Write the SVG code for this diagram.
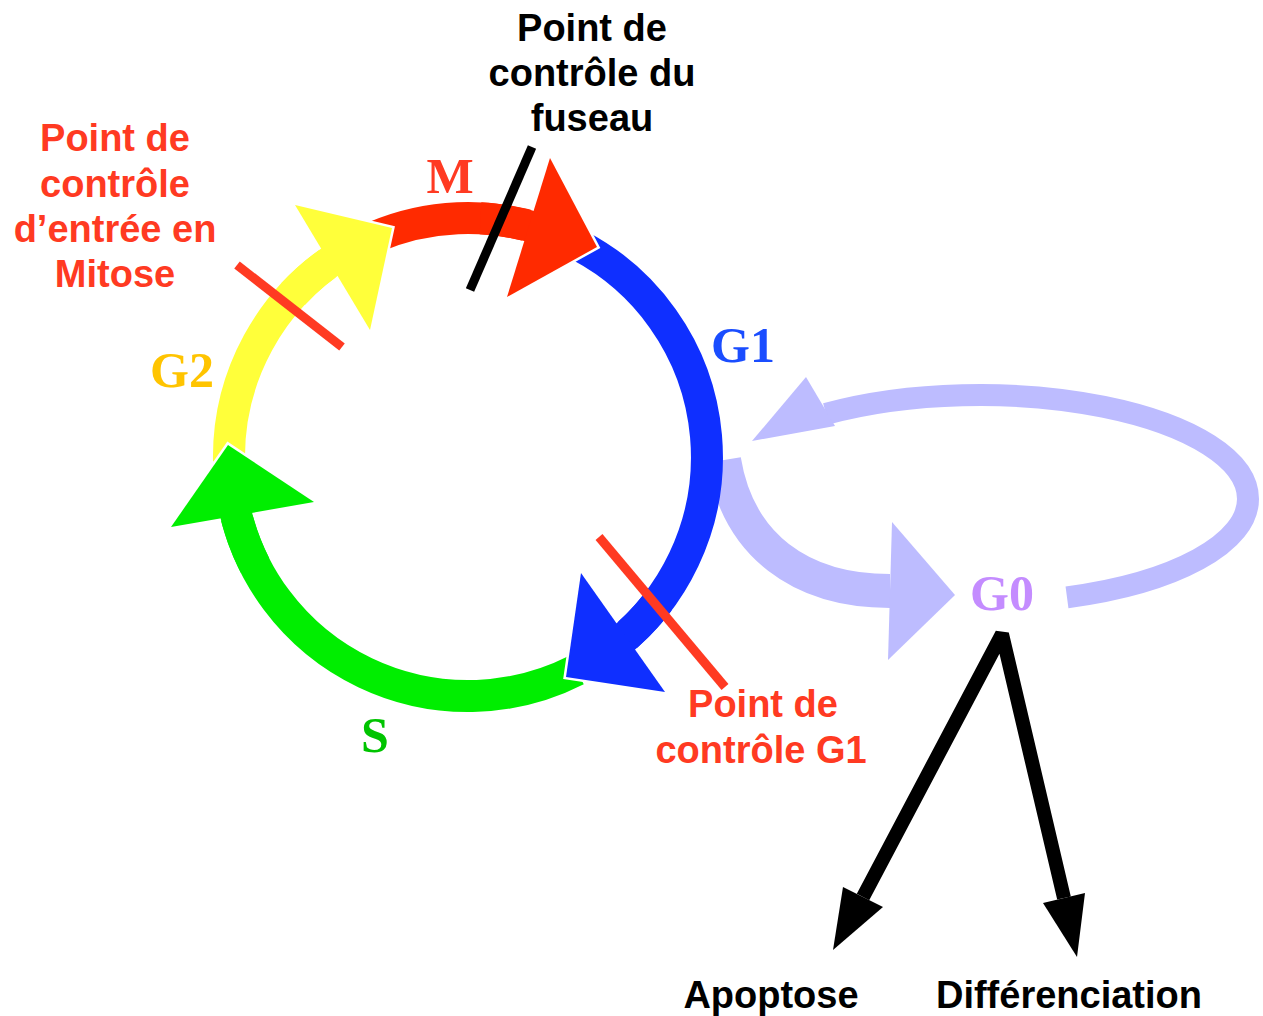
<svg xmlns="http://www.w3.org/2000/svg" width="1263" height="1016" viewBox="0 0 1263 1016">
<style>
.sans{font-family:"Liberation Sans",Arial,sans-serif;font-weight:bold;font-size:38px;text-anchor:middle}
.serif{font-family:"Liberation Serif","Times New Roman",serif;font-weight:bold;font-size:50px;text-anchor:middle}
.shaft{fill:none;stroke-width:32;stroke-linecap:butt}
.halo{fill:#fff;stroke:#fff;stroke-width:5;stroke-linejoin:miter}
.bar{stroke-width:9;stroke-linecap:butt;fill:none}
.lav{fill:none;stroke:#bdbcff}
.blk{fill:none;stroke:#000;stroke-width:14;stroke-linejoin:bevel}
</style>
<defs>
  <polygon id="hY" points="295,205 392,228 370,330"/>
  <polygon id="hR" points="550,158 597,247 507,297"/>
  <polygon id="hB" points="581,573 566,677 665,692"/>
  <polygon id="hG" points="228,445 171,527 314,502"/>
</defs>
<rect width="1263" height="1016" fill="#fff"/>

<g id="connectors">
  <path class="lav" stroke-width="34" d="M724 460 C738 545 800 591 890 591"/>
  <polygon fill="#bdbcff" points="892,522 955,595 888,660"/>
  <path class="lav" stroke-width="22" d="M1067 597.4 A268 104 0 0 0 1248 499 A268 104 0 0 0 826 413.9"/>
  <polygon fill="#bdbcff" points="752,441 806,377 835,426"/>
  <path class="blk" d="M863 897 L1002 634 L1064 898"/>
  <polygon fill="#000" points="833,950 843,887 883,907"/>
  <polygon fill="#000" points="1077,957 1043,903 1085,893"/>
</g>

<g id="ring">
  <path class="shaft" stroke="#ff2a00" d="M374.6 237 A239 239 0 0 1 541.9 229.7"/>
  <path class="shaft" stroke="#0f2fff" d="M580.2 246 A239 239 0 0 1 615.1 645.3"/>
  <path class="shaft" stroke="#00ee00" d="M576.5 670 A239 239 0 0 1 234.2 506.7"/>
  <path class="shaft" stroke="#ffff3a" d="M229 461.2 A239 239 0 0 1 341.4 254.3"/>
  <g id="arrow-G2">
    <use href="#hY" class="halo"/>
    <path class="shaft" stroke="#ffff3a" d="M293.2 294 A239 239 0 0 1 341.4 254.3"/>
    <use href="#hY" fill="#ffff3a"/>
  </g>
  <g id="arrow-M">
    <use href="#hR" class="halo"/>
    <path class="shaft" stroke="#ff2a00" d="M480.5 218.3 A239 239 0 0 1 541.9 229.7"/>
    <use href="#hR" fill="#ff2a00"/>
  </g>
  <g id="arrow-G1">
    <use href="#hB" class="halo"/>
    <path class="shaft" stroke="#0f2fff" d="M658.9 600.8 A239 239 0 0 1 615.1 645.3"/>
    <use href="#hB" fill="#0f2fff"/>
  </g>
  <g id="arrow-S">
    <use href="#hG" class="halo"/>
    <path class="shaft" stroke="#00ee00" d="M255.05 565.5 A239 239 0 0 1 234.2 506.7"/>
    <use href="#hG" fill="#00ee00"/>
  </g>
</g>

<g id="phase-M"><text class="serif" x="450" y="193" fill="#ff3a22">M</text></g>
<g id="phase-G1"><text class="serif" x="743" y="362" fill="#1a4dff">G1</text></g>
<g id="phase-G2"><text class="serif" x="182" y="387" fill="#ffc400">G2</text></g>
<g id="phase-S"><text class="serif" x="375" y="752" fill="#00c400">S</text></g>
<g id="phase-G0"><text class="serif" x="1002" y="610" fill="#c48cff">G0</text></g>

<g id="checkpoint-spindle">
  <line class="bar" stroke="#000" stroke-width="10" x1="532" y1="147" x2="470" y2="290"/>
  <text class="sans" fill="#000"><tspan x="592" y="41">Point de</tspan><tspan x="592" y="86">contrôle du</tspan><tspan x="592" y="131">fuseau</tspan></text>
</g>
<g id="checkpoint-G2M">
  <line class="bar" stroke="#ff3a22" x1="237" y1="265" x2="342" y2="347"/>
  <text class="sans" fill="#ff3a22"><tspan x="115" y="151">Point de</tspan><tspan x="115" y="197">contrôle</tspan><tspan x="115" y="242">d’entrée en</tspan><tspan x="115" y="287">Mitose</tspan></text>
</g>
<g id="checkpoint-G1">
  <line class="bar" stroke="#ff3a22" x1="599" y1="537" x2="725" y2="687"/>
  <text class="sans" fill="#ff3a22"><tspan x="763" y="717">Point de</tspan><tspan x="761" y="763">contrôle G1</tspan></text>
</g>
<g id="outcome-apoptose"><text class="sans" x="771" y="1008" fill="#000">Apoptose</text></g>
<g id="outcome-differenciation"><text class="sans" x="1069" y="1008" fill="#000">Différenciation</text></g>
</svg>
